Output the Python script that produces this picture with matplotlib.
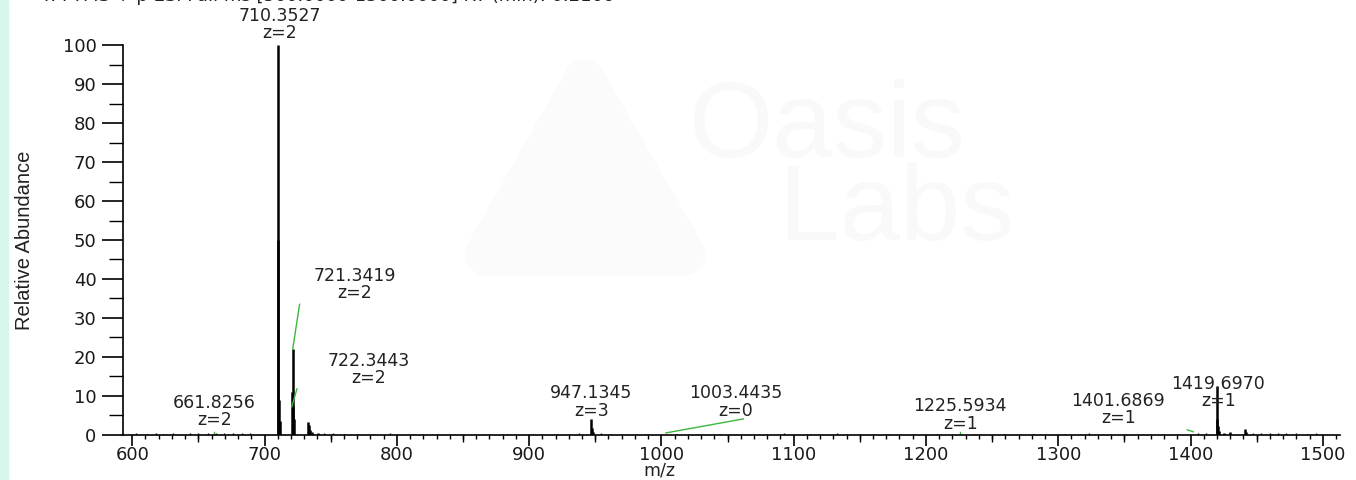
import matplotlib
matplotlib.use("Agg")
import matplotlib.pyplot as plt
from matplotlib.ticker import MultipleLocator
import numpy as np

# peaks (m/z, relative abundance)
peak_mz = [709.85, 710.35, 710.85, 711.35, 720.84, 721.34, 721.84, 722.34,
           732.8, 733.3, 734.3, 736.0, 740.5, 947.13, 947.63, 948.5,
           1419.70, 1420.20, 1420.70, 1421.5, 1425.0, 1430.0, 1441.0, 1442.0]
peak_int = [50.0, 100.0, 9.0, 3.5, 11.0, 22.0, 7.5, 4.0,
            3.2, 2.5, 1.2, 0.8, 0.6, 4.0, 1.8, 0.8,
            12.5, 4.2, 2.2, 1.0, 0.6, 0.7, 1.6, 0.8]

# baseline noise
noise_mz = [603, 611, 618, 624, 631, 637, 644, 650, 657, 663, 669, 676, 683, 689, 695,
            745, 752, 760, 771, 782, 795, 812, 830, 851, 866, 884, 903, 921, 938, 954,
            962, 975, 988, 1011, 1028, 1045, 1066, 1093, 1112, 1133, 1150, 1171, 1190,
            1208, 1236, 1259, 1282, 1305, 1323, 1351, 1380, 1406, 1412, 1447, 1453,
            1460, 1466, 1472, 1480, 1488, 1495]
noise_int = [0.4, 0.3, 0.5, 0.3, 0.4, 0.3, 0.6, 0.4, 0.5, 0.4, 0.5, 0.4, 0.5, 0.4, 0.3,
             0.5, 0.4, 0.3, 0.3, 0.3, 0.4, 0.3, 0.3, 0.3, 0.3, 0.3, 0.3, 0.3, 0.4, 0.4,
             0.3, 0.3, 0.3, 0.3, 0.3, 0.3, 0.3, 0.5, 0.3, 0.4, 0.3, 0.3, 0.3,
             0.3, 0.3, 0.3, 0.3, 0.3, 0.4, 0.3, 0.3, 0.5, 0.6, 0.6, 0.5,
             0.4, 0.5, 0.4, 0.5, 0.3, 0.4]

# annotations: label, z, text position
ann_mz = ["710.3527", "721.3419", "722.3443", "661.8256", "947.1345",
          "1003.4435", "1225.5934", "1401.6869", "1419.6970"]
ann_z = [2, 2, 2, 2, 3, 0, 1, 1, 1]
ann_x = [711.5, 768, 779, 662, 947, 1056, 1226, 1345.5, 1421]
ann_y = [100.8, 34, 12.2, 1.4, 3.9, 3.9, 0.6, 1.9, 6.4]

# green connector lines
link_x0 = [721.3, 720.6, 1003.4, 1397.5, 661.8, 1225.6]
link_y0 = [22.0, 7.2, 0.5, 1.3, 0.3, 0.3]
link_x1 = [726.5, 724.5, 1062.0, 1402.0, 661.8, 1225.6]
link_y1 = [33.5, 11.8, 4.1, 0.8, 0.8, 0.8]

fig = plt.figure(figsize=(13.56, 4.8), dpi=100)
fig.patch.set_facecolor("white")

# light strip on the left edge
fig.patches.append(plt.Rectangle((0, 0), 0.006, 1, transform=fig.transFigure,
                                 color="#d6f6ee", zorder=0))

# cut-off header line
fig.text(0.03, 1.009, "T: FTMS + p ESI Full ms [500.0000-1500.0000] RT (min): 0.2166",
         fontsize=13, family="DejaVu Sans", color="#222222", va="center")

# faint watermark
fig.patches.append(plt.Polygon([[0.358, 0.469], [0.431, 0.833], [0.505, 0.469]],
                               closed=True, transform=fig.transFigure,
                               color="#fbfbfb", zorder=0, joinstyle="round", lw=30))
fig.text(0.508, 0.645, "Oasis\n   Labs", fontsize=78, family="Liberation Sans",
         color="#f9f9f9", va="center", linespacing=0.78, zorder=0)

ax = fig.add_axes([0.0907, 0.094, 0.8975, 0.812])
ax.patch.set_alpha(0)

ax.vlines(noise_mz, 0, noise_int, color="black", lw=1.0)
ax.vlines(peak_mz, 0, peak_int, color="black", lw=1.8)

for x0, y0, x1, y1 in zip(link_x0, link_y0, link_x1, link_y1):
    ax.plot([x0, x1], [y0, y1], color="#3cb83c", lw=1.0, clip_on=False)

for lab, z, x, y in zip(ann_mz, ann_z, ann_x, ann_y):
    ax.text(x, y, f"{lab}\nz={z}", ha="center", va="bottom", fontsize=12.5,
            family="DejaVu Sans", color="#222222", linespacing=0.95, clip_on=False)

ax.set_xlim(593, 1513)
ax.set_ylim(0, 100)

for side in ["top", "right"]:
    ax.spines[side].set_visible(False)
for side in ["left", "bottom"]:
    ax.spines[side].set_linewidth(1.2)

ax.xaxis.set_major_locator(MultipleLocator(100))
ax.xaxis.set_minor_locator(MultipleLocator(10))
ax.yaxis.set_major_locator(MultipleLocator(10))
ax.yaxis.set_minor_locator(MultipleLocator(5))
ax.tick_params(axis="x", which="major", length=8, width=1.2, labelsize=13, pad=0)
ax.tick_params(axis="x", which="minor", length=3, width=1.0)
ax.tick_params(axis="y", which="major", length=15, width=1.2, labelsize=13, pad=4)
ax.tick_params(axis="y", which="minor", length=10, width=1.0)
for t in ax.get_xticklabels() + ax.get_yticklabels():
    t.set_family("DejaVu Sans")
    t.set_color("#1a1a1a")

# medium ticks at the 50s
sec = ax.secondary_xaxis("bottom")
sec.set_xticks(np.arange(650, 1500, 100))
sec.tick_params(length=5, width=1.0, labelbottom=False)
sec.spines["bottom"].set_visible(False)

ax.set_xlabel("m/z", fontsize=12.5, family="DejaVu Sans", color="#222222")
ax.xaxis.set_label_coords(0.441, -0.068)
ax.set_ylabel("Relative Abundance", fontsize=14.5, family="Liberation Sans",
              color="#222222")
ax.yaxis.set_label_coords(-0.073, 0.5)

fig.savefig("out.png", dpi=100)
